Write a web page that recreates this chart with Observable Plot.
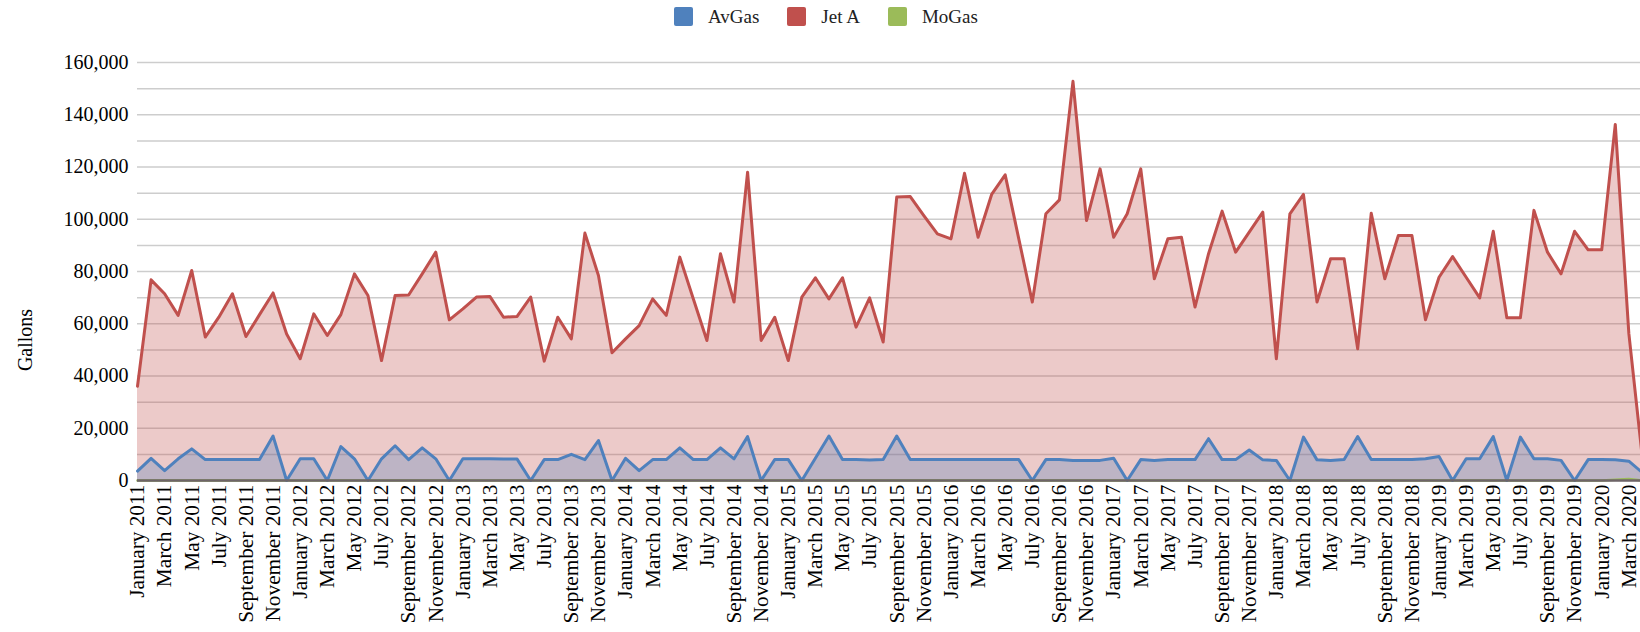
<!DOCTYPE html>
<html><head><meta charset="utf-8">
<script src="https://cdn.jsdelivr.net/npm/d3@7"></script>
<script src="https://cdn.jsdelivr.net/npm/@observablehq/plot@0.6"></script>
<style>
body{margin:0;background:#fff;font-family:"Liberation Serif","Times New Roman",serif;}
#wrap{position:relative;width:1640px;height:632px;overflow:hidden;background:#fff;}
#chart{position:absolute;left:0;top:0;}
#legend{position:absolute;top:0;left:674px;height:33px;display:flex;align-items:center;font-size:19px;color:#222;z-index:2;}
.item{display:flex;align-items:center;margin-right:28px;}
.sw{width:19px;height:19px;border-radius:2px;margin-right:15px;}
</style></head><body>
<div id="wrap"><div id="legend"></div><div id="chart"></div></div>
<script>
const monthNames = ["January","February","March","April","May","June","July","August","September","October","November","December"];
const startYear = 2011;
const nMonths = 112; // January 2011 .. April 2020
const categories = d3.range(nMonths).map(i => monthNames[i % 12] + " " + (startYear + Math.floor(i / 12)));

const seriesNames = ["AvGas", "Jet A", "MoGas"];
const seriesColors = ["#4F81BD", "#C0504D", "#9BBB59"];

const jetA = [
  36100, 76800, 71500, 63200, 80400, 54900, 62500, 71500, 55100, 63500, 71800, 56100,
  46600, 63800, 55500, 63500, 79100, 70800, 45900, 70800, 71000, 79100, 87400, 61500,
  65700, 70200, 70400, 62500, 62800, 70200, 45700, 62500, 54200, 94700, 78500, 48900,
  54200, 59300, 69500, 63200, 85500, 69500, 53600, 86800, 68300, 118000, 53600, 62500,
  45900, 70200, 77600, 69500, 77600, 58700, 69900, 53000, 108500, 108700, 101400, 94400,
  92500, 117600, 93100, 109500, 117000, 92600, 68300, 102100, 107400, 152800, 99500, 119300,
  93100, 102100, 119300, 77200, 92500, 93100, 66400, 86800, 103100, 87400, 95100, 102700,
  46600, 102100, 109500, 68300, 84900, 84900, 50400, 102300, 77200, 93800, 93800, 61500,
  77800, 85700, 77800, 69900, 95400, 62300, 62300, 103400, 87400, 79100, 95400, 88300,
  88300, 136300, 56300, 8500
];
const avGas = [
  3600, 8500, 3800, 8300, 12100, 8000, 8000, 8000, 8000, 8000, 17000, 0,
  8300, 8300, 0, 13000, 8300, 0, 8300, 13300, 8000, 12500, 8300, 0,
  8300, 8300, 8300, 8200, 8200, 0, 8000, 8000, 10000, 8000, 15300, 0,
  8500, 3800, 8000, 8000, 12500, 8000, 8000, 12500, 8300, 16800, 0, 8000,
  8000, 0, 8500, 17000, 8000, 8000, 7800, 8000, 17000, 8000, 8000, 8000,
  8000, 8000, 8000, 8000, 8000, 8000, 0, 8000, 8000, 7700, 7700, 7700,
  8500, 0, 8000, 7700, 8000, 8000, 8000, 16000, 8000, 8000, 11700, 7900,
  7700, 0, 16600, 7900, 7700, 8000, 16800, 8000, 8000, 8000, 8000, 8300,
  9200, 0, 8300, 8300, 16800, 0, 16600, 8300, 8300, 7700, 0, 8000,
  8000, 7900, 7400, 3000
];
const moGas = [
  0,0,0,0,0,0,0,0,0,0,0,0,
  0,0,0,0,0,0,0,0,0,0,0,0,
  0,0,0,0,0,0,0,0,0,0,0,0,
  0,0,0,0,0,0,0,0,0,0,0,0,
  0,0,0,0,0,0,0,0,0,0,0,0,
  0,0,0,0,0,0,0,0,0,0,0,0,
  0,0,0,0,0,0,0,0,0,0,0,0,
  0,0,0,0,0,0,0,0,0,0,0,0,
  0,0,0,0,0,0,0,0,0,0,0,0,
  0,300,600,0
];
const yTicks = [0, 20000, 40000, 60000, 80000, 100000, 120000, 140000, 160000];
const gridValues = [0, 10000, 20000, 30000, 40000, 50000, 60000, 70000, 80000, 90000, 100000, 110000, 120000, 130000, 140000, 150000, 160000];
const xTicks = d3.range(0, 111, 2);

const rows = categories.map((c, i) => ({i, cat: c, av: avGas[i], jet: jetA[i], mo: moGas[i]}));

const font = '"Liberation Serif","Times New Roman",serif';
const plot = Plot.plot({
  width: 1640, height: 632,
  marginLeft: 137, marginRight: 0, marginTop: 62, marginBottom: 152,
  style: {fontFamily: font, color: "#000", background: "transparent", overflow: "visible"},
  x: {type: "linear", domain: [0, 110.86], axis: null},
  y: {domain: [0, 160000], axis: null},
  marks: [
    Plot.ruleY(gridValues, {stroke: "#cdcdcd", strokeWidth: 1.5}),
    Plot.areaY(rows, {x: "i", y: "jet", fill: seriesColors[1], fillOpacity: 0.3}),
    Plot.areaY(rows, {x: "i", y: "av", fill: seriesColors[0], fillOpacity: 0.3}),
    Plot.areaY(rows, {x: "i", y: "mo", fill: seriesColors[2], fillOpacity: 0.3}),
    Plot.lineY(rows, {x: "i", y: "mo", stroke: seriesColors[2], strokeWidth: 2.5}),
    Plot.lineY(rows, {x: "i", y: "jet", stroke: seriesColors[1], strokeWidth: 3}),
    Plot.lineY(rows, {x: "i", y: "av", stroke: seriesColors[0], strokeWidth: 3}),
    Plot.ruleY([0], {stroke: "#6e6468", strokeWidth: 2.5}),
    Plot.axisY({ticks: yTicks, tickFormat: d3.format(","), tickSize: 0, tickPadding: 9, fontSize: 20, label: null}),
    Plot.axisX({ticks: xTicks, tickFormat: i => categories[i], tickSize: 0, tickPadding: 4, tickRotate: -90, fontSize: 21.3, label: null})
  ]
});
document.getElementById("chart").appendChild(plot);
d3.select(plot).append("text")
  .attr("transform", "translate(32,340) rotate(-90)")
  .attr("text-anchor", "middle")
  .attr("font-size", 20)
  .attr("font-family", font)
  .attr("fill", "#000")
  .text("Gallons");

const legend = d3.select("#legend");
seriesNames.forEach((name, k) => {
  const it = legend.append("div").attr("class", "item");
  it.append("div").attr("class", "sw").style("background", seriesColors[k]);
  it.append("span").text(name);
});
</script>
</body></html>
